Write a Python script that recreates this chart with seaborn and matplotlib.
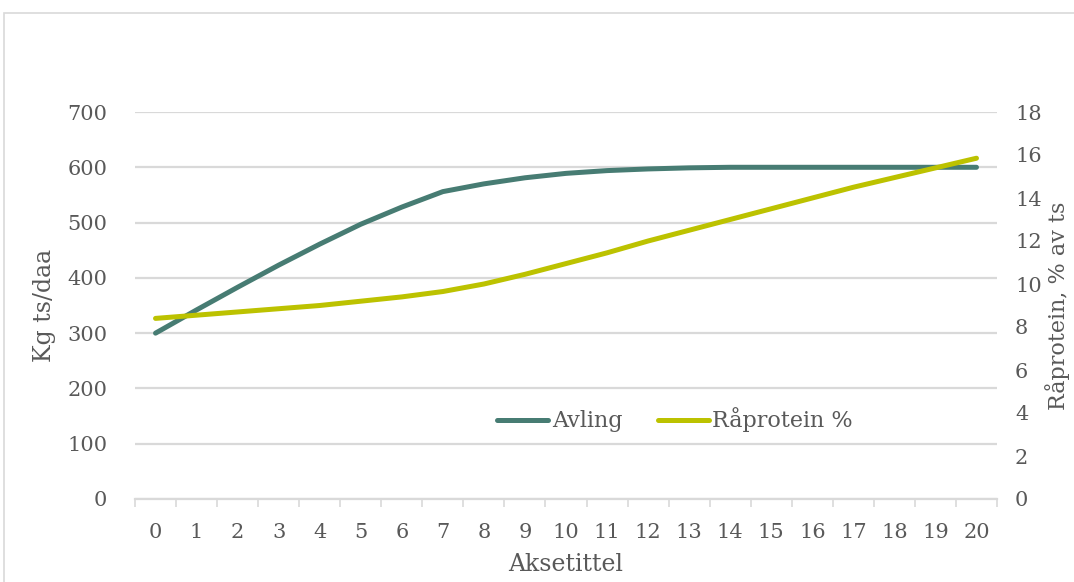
import numpy as np
import pandas as pd
import matplotlib
matplotlib.use("Agg")
import matplotlib.pyplot as plt
from matplotlib.patches import Rectangle
from matplotlib.lines import Line2D
import seaborn as sns

# Categories on the x axis
categories = list(range(0, 21))
# Yield, kg dry matter per daa
avling = [300, 342, 383, 423, 461, 497, 528, 556, 570, 581, 589, 594,
          597, 599, 600, 600, 600, 600, 600, 600, 600]
# Crude protein, % of dry matter
raprotein = [8.4, 8.55, 8.7, 8.85, 9.0, 9.2, 9.4, 9.65, 10.0, 10.45, 10.95,
             11.45, 12.0, 12.5, 13.0, 13.5, 14.0, 14.5, 14.95, 15.4, 15.85]
left_ticks = [0, 100, 200, 300, 400, 500, 600, 700]
right_ticks = [0, 2, 4, 6, 8, 10, 12, 14, 16, 18]

sns.set_theme(style="white")
plt.rcParams["font.family"] = ["DejaVu Serif"]

TEXT = "#595959"
GRID = "#d9d9d9"
C_AVL = "#477C73"
C_PROT = "#BCC200"

df = pd.DataFrame({"x": categories, "Avling": avling, "Råprotein %": raprotein})

fig = plt.figure(figsize=(10.74, 5.82), dpi=100)
fig.patch.set_facecolor("white")
# chart frame
fig.add_artist(Rectangle((4 / 1074, -0.1), 1.2, (582 - 13) / 582 + 0.1,
                         transform=fig.transFigure, fill=False,
                         edgecolor=GRID, linewidth=1.2))

ax = fig.add_axes([135 / 1074, (582 - 499) / 582, (997 - 135) / 1074, (499 - 112) / 582])
ax2 = ax.twinx()

sns.lineplot(data=df, x="x", y="Avling", ax=ax, color=C_AVL, linewidth=3.6,
             solid_capstyle="round", solid_joinstyle="round", zorder=3)
sns.lineplot(data=df, x="x", y="Råprotein %", ax=ax2, color=C_PROT, linewidth=3.6,
             solid_capstyle="round", solid_joinstyle="round", zorder=3)

ax.set_xlim(-0.5, 20.5)
ax.set_ylim(0, 700)
ax2.set_ylim(0, 18)

ax.set_yticks(left_ticks)
ax.set_yticklabels([str(v) for v in left_ticks])
ax2.set_yticks(right_ticks)
ax2.set_yticklabels([str(v) for v in right_ticks])
ax.set_xticks(categories)
ax.set_xticklabels([str(c) for c in categories])
ax.set_xticks(np.arange(-0.5, 21, 1.0), minor=True)

ax.grid(axis="y", color=GRID, linewidth=1.6)
ax.set_axisbelow(True)
for a in (ax, ax2):
    for s in ("top", "left", "right"):
        a.spines[s].set_visible(False)
ax2.spines["bottom"].set_visible(False)
ax.spines["bottom"].set_color(GRID)
ax.spines["bottom"].set_linewidth(1.6)

ax.tick_params(axis="x", which="major", length=0, pad=17, labelsize=15, labelcolor=TEXT)
ax.tick_params(axis="x", which="minor", length=6, width=1.2, color=GRID, direction="out", bottom=True)
ax.tick_params(axis="y", length=0, pad=20, labelsize=15, labelcolor=TEXT)
ax2.tick_params(axis="y", length=0, pad=13, labelsize=15, labelcolor=TEXT)

ax.set_xlabel("Aksetittel", fontsize=17, color=TEXT, labelpad=8)
ax.set_ylabel("Kg ts/daa", fontsize=17, color=TEXT, labelpad=8)
ax2.set_ylabel("Råprotein, % av ts", fontsize=16, color=TEXT, labelpad=2)

handles = [Line2D([], [], color=C_AVL, linewidth=3.6, solid_capstyle="round"),
           Line2D([], [], color=C_PROT, linewidth=3.6, solid_capstyle="round")]
leg = ax.legend(handles, ["Avling", "Råprotein %"], loc="center",
                bbox_to_anchor=(675 / 1074, 1 - 420 / 582), bbox_transform=fig.transFigure,
                ncol=2, frameon=False, fontsize=16, handlelength=2.3,
                handletextpad=0.15, columnspacing=1.6, labelcolor=TEXT)
ax.get_legend().remove()
ax2.add_artist(leg)

fig.savefig("out.png", dpi=100, facecolor="white")
